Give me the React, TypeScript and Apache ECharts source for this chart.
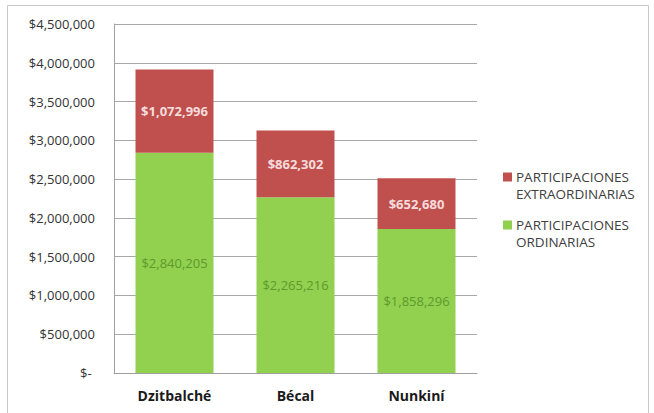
import React, { useEffect, useRef } from "react";
import * as echarts from "echarts";

const categories = ["Dzitbalché", "Bécal", "Nunkiní"];
const ordinarias = [2840205, 2265216, 1858296];
const extraordinarias = [1072996, 862302, 652680];
const seriesNames = ["PARTICIPACIONES ORDINARIAS", "PARTICIPACIONES EXTRAORDINARIAS"];
const legendLines = [
  ["PARTICIPACIONES", "EXTRAORDINARIAS"],
  ["PARTICIPACIONES", "ORDINARIAS"],
];
const yTicks = { min: 0, max: 4500000, interval: 500000 };

const colors = { ord: "#92d050", ext: "#c0504d" };
const money = (v: number) => "$" + Math.round(v).toLocaleString("en-US");
const FONT = "'Open Sans', 'Liberation Sans', sans-serif";

export default function App() {
  const ref = useRef<HTMLDivElement>(null);
  useEffect(() => {
    document.body.style.margin = "0";
    const chart = echarts.init(ref.current!, null, { renderer: "svg" });
    const legendItems = [
      { color: colors.ext, lines: legendLines[0], y: 177 },
      { color: colors.ord, lines: legendLines[1], y: 225 },
    ];
    const legendGraphics: any[] = [];
    legendItems.forEach((it) => {
      legendGraphics.push({
        type: "rect",
        silent: true,
        shape: { x: 503, y: it.y - 4.5, width: 9, height: 9 },
        style: { fill: it.color },
      });
      legendGraphics.push({
        type: "text",
        silent: true,
        x: 516,
        y: it.y - 8,
        style: {
          text: it.lines.join("\n"),
          fill: "#404040",
          font: `13.5px ${FONT}`,
          lineHeight: 16.5,
          verticalAlign: "top",
        },
      });
    });
    chart.setOption({
      animation: false,
      backgroundColor: "#ffffff",
      textStyle: { fontFamily: FONT },
      grid: { left: 114, right: 177, top: 24, bottom: 40 },
      legend: { show: false, data: seriesNames },
      graphic: [
        {
          type: "rect",
          silent: true,
          shape: { x: 7.5, y: 5.5, width: 641, height: 420 },
          style: { fill: "none", stroke: "#c8c8c8", lineWidth: 1 },
        },
        ...legendGraphics,
      ],
      xAxis: {
        type: "category",
        data: categories,
        axisLine: { lineStyle: { color: "#a0a0a0" } },
        axisTick: { show: false },
        axisLabel: {
          color: "#1a1a1a",
          fontWeight: "bold",
          fontSize: 14,
          margin: 15,
          fontFamily: FONT,
        },
      },
      yAxis: {
        type: "value",
        min: yTicks.min,
        max: yTicks.max,
        interval: yTicks.interval,
        axisLine: { show: true, lineStyle: { color: "#a0a0a0" } },
        axisTick: { show: false },
        splitLine: { lineStyle: { color: "#a8a8a8" } },
        axisLabel: {
          color: "#333333",
          fontSize: 13,
          margin: 19,
          fontFamily: FONT,
          formatter: (v: number) => (v === 0 ? "$- " : money(v)),
        },
      },
      series: [
        {
          name: seriesNames[0],
          type: "bar",
          stack: "total",
          barWidth: 78,
          data: ordinarias,
          itemStyle: { color: colors.ord },
          label: {
            show: true,
            position: "inside",
            color: "#5e9a2c",
            fontSize: 13,
            fontFamily: FONT,
            formatter: (p: any) => money(p.value),
          },
        },
        {
          name: seriesNames[1],
          type: "bar",
          stack: "total",
          barWidth: 78,
          data: extraordinarias,
          itemStyle: { color: colors.ext },
          label: {
            show: true,
            position: "inside",
            color: "#f6dcdc",
            fontWeight: "bold",
            fontSize: 13,
            fontFamily: FONT,
            formatter: (p: any) => money(p.value),
          },
        },
      ],
    });
    return () => chart.dispose();
  }, []);
  return <div ref={ref} style={{ width: 654, height: 413 }} />;
}
